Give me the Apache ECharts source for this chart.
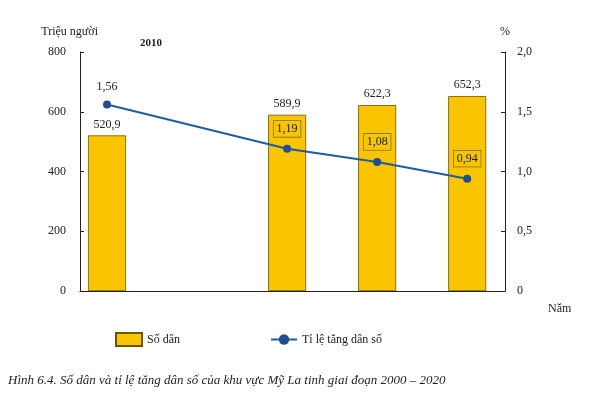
<!DOCTYPE html>
<html><head><meta charset="utf-8">
<script src="https://cdn.jsdelivr.net/npm/echarts@6/dist/echarts.min.js"></script>
<style>html,body{margin:0;padding:0;background:#fff}#c{width:592px;height:400px}</style>
</head><body><div id="c"></div>
<script>
const years = [2000, 2010, 2015, 2020];
const population = [520.9, 589.9, 622.3, 652.3];
const growthRate = [1.56, 1.19, 1.08, 0.94];
const leftTicks = [0, 200, 400, 600, 800];
const rightTicks = [0, 0.5, 1.0, 1.5, 2.0];
const fmt = v => String(v).replace('.', ',');
const fmtR = v => v === 0 ? '0' : v.toFixed(1).replace('.', ',');
const chart = echarts.init(document.getElementById('c'));
chart.setOption({
  animation: false,
  textStyle: { fontFamily: 'Liberation Serif' },
  grid: { left: 80, right: 87, top: 52, bottom: 109 },
  xAxis: {
    type: 'value', min: 1998.5, max: 2022.1, interval: 100,
    axisLine: { lineStyle: { color: '#222' } }, axisTick: { show: false },
    axisLabel: { show: false }, splitLine: { show: false }
  },
  yAxis: [
    { type: 'value', min: 0, max: 800, interval: 200, name: 'Triệu người',
      nameGap: 14, nameTextStyle: { color: '#222', fontSize: 12, align: 'right', padding: [0, -18, 0, 0] },
      axisLine: { show: true, lineStyle: { color: '#222' } }, axisTick: { show: true, inside: true, length: 4 },
      axisLabel: { color: '#222', fontSize: 12, margin: 14 }, splitLine: { show: false } },
    { type: 'value', min: 0, max: 2.0, interval: 0.5, name: '%', position: 'right',
      nameGap: 14, nameTextStyle: { color: '#222', fontSize: 12 },
      axisLine: { show: true, lineStyle: { color: '#222' } }, axisTick: { show: true, inside: true, length: 4 },
      axisLabel: { color: '#222', fontSize: 12, margin: 12, formatter: fmtR }, splitLine: { show: false } }
  ],
  graphic: [
    { type: 'text', left: 140, top: -8, style: { text: 'KẾT NỐI TRI THỨC', fill: '#f2f2f2', font: 'bold 40px "DejaVu Sans"' } },
    { type: 'text', left: 140, top: 38, style: { text: 'VỚI CUỘC SỐNG', fill: '#f2f2f2', font: 'bold 36px "DejaVu Sans"' } },
    { type: 'line', shape: { x1: 505, y1: 291, x2: 540, y2: 291 }, style: { stroke: '#222', lineWidth: 1 } },
    { type: 'polygon', shape: { points: [[546, 291], [538, 288], [538, 294]] }, style: { fill: '#222' } },
    { type: 'text', left: 548, top: 303, style: { text: 'Năm', fill: '#222', font: '12px "Liberation Serif"' } },
    { type: 'text', x: 8, y: 374, style: { text: 'Hình 6.4. Số dân và tỉ lệ tăng dân số của khu vực Mỹ La tinh giai đoạn 2000 – 2020', fill: '#222', font: 'italic 13px "Liberation Serif"' } }
  ],
  legend: {
    bottom: 48, left: 110, itemGap: 90, itemWidth: 26, itemHeight: 13,
    textStyle: { fontSize: 12, color: '#222' },
    data: [{ name: 'Số dân', icon: 'rect' }, { name: 'Tỉ lệ tăng dân số' }]
  },
  series: [
    { name: 'Số dân', type: 'bar', barWidth: 38, yAxisIndex: 0,
      data: years.map((y, i) => [y, population[i]]),
      itemStyle: { color: '#f8c500', borderColor: '#6b5500', borderWidth: 0.8 },
      label: { show: true, position: 'top', color: '#222', fontSize: 12, formatter: p => fmt(p.value[1]) } },
    { name: 'Tỉ lệ tăng dân số', type: 'line', yAxisIndex: 1,
      data: years.map((y, i) => ({ value: [y, growthRate[i]],
        label: i === 0 ? {} : { backgroundColor: '#f8c500', borderColor: '#555', borderWidth: 0.6, padding: [2, 3] } })),
      lineStyle: { color: '#1f5ca6', width: 2 }, itemStyle: { color: '#1f4f8f' },
      symbol: 'circle', symbolSize: 8,
      label: { show: true, position: 'top', distance: 8, color: '#222', fontSize: 12,
        formatter: p => fmt(p.value[1]) } }
  ]
});
const gl = [];
years.forEach(y => {
  const px = chart.convertToPixel({ xAxisIndex: 0 }, y);
  gl.push({ type: 'text', x: px, y: 300, style: { text: String(y), fill: '#222', font: 'bold 11px "Liberation Serif"', textAlign: 'center' } });
});
chart.setOption({ graphic: gl });
</script></body></html>
